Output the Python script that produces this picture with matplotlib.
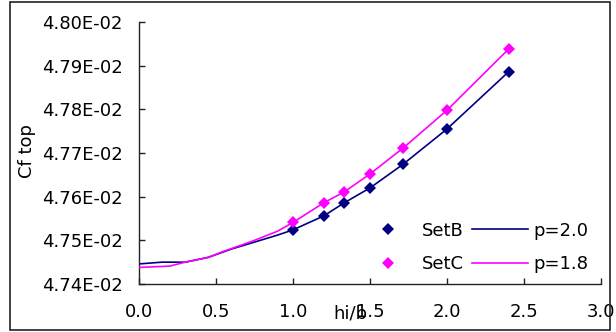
import matplotlib
matplotlib.use("Agg")
import matplotlib.pyplot as plt
from matplotlib.lines import Line2D
from matplotlib.patches import Rectangle
from matplotlib.ticker import FuncFormatter, MultipleLocator

plt.rcParams["font.family"] = ["DejaVu Sans"]

# sampled points (markers)
pts_x = [1.0, 1.2, 1.333, 1.5, 1.714, 2.0, 2.4]
setB = [0.047524, 0.047556, 0.047586, 0.047620, 0.047674, 0.047755, 0.047886]
setC = [0.047541, 0.047586, 0.047611, 0.047652, 0.047711, 0.047798, 0.047938]

# fitted curves
curveB_x = [0.0, 0.15, 0.3, 0.45, 0.6, 0.75, 0.9, 1.0, 1.2, 1.333, 1.5, 1.714, 2.0, 2.4]
curveB_y = [0.047446, 0.047450, 0.047450, 0.047461, 0.047480, 0.047496, 0.047512,
            0.047524, 0.047556, 0.047586, 0.047620, 0.047674, 0.047755, 0.047886]
curveC_x = [0.0, 0.2, 0.3, 0.45, 0.55, 0.6, 0.75, 0.9, 1.0, 1.2, 1.333, 1.5, 1.714, 2.0, 2.4]
curveC_y = [0.047438, 0.047441, 0.047450, 0.047461, 0.047475, 0.047481, 0.047500,
            0.047521, 0.047541, 0.047586, 0.047611, 0.047652, 0.047711, 0.047798, 0.047938]

navy = "#000080"
magenta = "#ff00ff"
fs = 13

fig = plt.figure(figsize=(6.16, 3.32), dpi=100)
ax = fig.add_axes([139 / 616, 1 - 284 / 332, 462 / 616, 262 / 332])

ax.plot(curveB_x, curveB_y, color=navy, lw=1.2, zorder=2)
ax.plot(pts_x, setB, ls="none", marker="D", ms=6.5, color=navy, mew=0, zorder=3)
ax.plot(curveC_x, curveC_y, color=magenta, lw=1.2, zorder=4)
ax.plot(pts_x, setC, ls="none", marker="D", ms=6.5, color=magenta, mew=0, zorder=5)

ax.set_xlim(0, 3.0)
ax.set_ylim(0.0474, 0.0480)
ax.xaxis.set_major_locator(MultipleLocator(0.5))
ax.yaxis.set_major_locator(MultipleLocator(0.0001))
ax.xaxis.set_major_formatter(FuncFormatter(lambda v, p: f"{v:.1f}"))
ax.yaxis.set_major_formatter(FuncFormatter(lambda v, p: f"{v:.2E}"))

for s in ["top", "right"]:
    ax.spines[s].set_visible(False)
for s in ["left", "bottom"]:
    ax.spines[s].set_linewidth(1.0)
    ax.spines[s].set_color("#222222")
ax.tick_params(axis="both", direction="in", length=4.5, width=1.0,
               color="#222222", labelsize=fs)
ax.tick_params(axis="x", pad=14)
ax.tick_params(axis="y", pad=12)

ax.set_xlabel("hi/b", fontsize=fs)
ax.xaxis.set_label_coords((350 - 139) / 462, -(313 - 284) / 262)
ax.xaxis.label.set_va("center")
ax.set_ylabel("Cf top", fontsize=fs)
ax.yaxis.set_label_coords((27 - 139) / 462, (284 - 151) / 262)
ax.yaxis.label.set_va("center")

handles = [
    Line2D([], [], ls="none", marker="D", ms=6.5, color=navy, mew=0),
    Line2D([], [], ls="none", marker="D", ms=6.5, color=magenta, mew=0),
    Line2D([], [], color=navy, lw=1.2),
    Line2D([], [], color=magenta, lw=1.2),
]
labels = ["SetB", "SetC", "p=2.0", "p=1.8"]
ax.legend(handles, labels, ncol=2, frameon=False, fontsize=fs,
          loc="lower left", bbox_to_anchor=((360 - 139) / 462, (284 - 273) / 262),
          handlelength=3.1, handletextpad=0.3, columnspacing=0.48,
          labelspacing=0.85, borderpad=0, borderaxespad=0)

fig.patches.append(Rectangle((10 / 616, 2 / 332), 600 / 616, 328 / 332,
                             transform=fig.transFigure, fill=False,
                             ec="#222222", lw=1.2))

fig.savefig("out.png", dpi=100)
